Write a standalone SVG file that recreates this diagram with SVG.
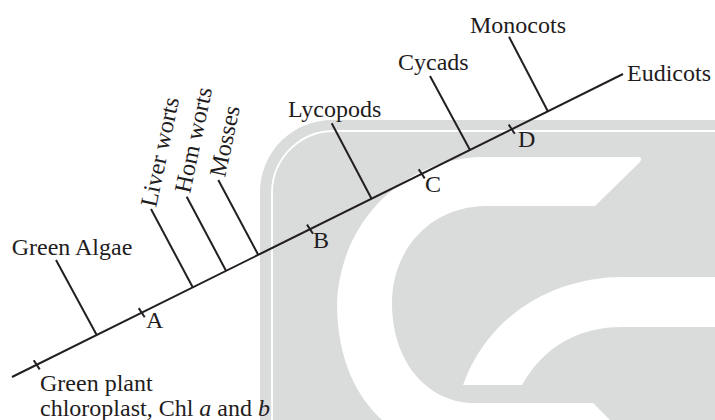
<svg xmlns="http://www.w3.org/2000/svg" width="715" height="420" viewBox="0 0 715 420">
  <style>
    .lbl { font-family: "Liberation Serif", "Times New Roman", serif; font-size: 24px; fill: #1f1c1d; }
    .ln { stroke: #231f20; stroke-width: 2; fill: none; stroke-linecap: butt; }
    .tick { stroke: #231f20; stroke-width: 2; }
    .bg { fill: #dadbdb; }
    .cut { fill: #ffffff; }
  </style>

  <!-- light backdrop emblem -->
  <g id="backdrop">
    <path class="bg" d="M260,420 L260,192 A72,72 0 0 1 332,120 L715,120 L715,420 Z"/>
    <path d="M272,420 L272,193 A62,62 0 0 1 334,131 L715,131" fill="none" stroke="#ffffff" stroke-width="1.8"/>
    <path class="cut" d="M638,157 L480,157 C400,160 340,225 337,303 C337,370 365,410 395,430 L625,430 L610,420 L593,403 L470,403 C425,400 392,360 392,303 C392,250 430,206 487,206 L595,206 L640,162 Q643,157 638,157 Z"/>
    <path class="cut" d="M715,277 L622,277 C560,277 490,310 463,385 L522,385 C545,345 580,327 622,327 L715,327 Z"/>
  </g>

  <!-- trunk, branches and ticks -->
  <g id="connectors">
    <line class="ln" x1="12" y1="377" x2="623" y2="74"/>
    <line class="ln" x1="56" y1="260" x2="96.7" y2="335"/>
    <line class="ln" x1="151" y1="209" x2="192.7" y2="287.3"/>
    <line class="ln" x1="186.7" y1="196.7" x2="226" y2="270.7"/>
    <line class="ln" x1="218.3" y1="180" x2="258.3" y2="255"/>
    <line class="ln" x1="331.7" y1="123.3" x2="371.7" y2="199"/>
    <line class="ln" x1="430" y1="76" x2="470" y2="150"/>
    <line class="ln" x1="509" y1="36.7" x2="547.7" y2="111"/>
  </g>

  <g id="root">
    <line class="tick" x1="33.7" y1="360.2" x2="39.7" y2="369.4"/>
    <text class="lbl" x="40" y="390.5">Green plant</text>
    <text class="lbl" x="40" y="416">chloroplast, Chl <tspan font-style="italic">a</tspan> and <tspan font-style="italic">b</tspan></text>
  </g>

  <g id="node-a">
    <line class="tick" x1="138.7" y1="308.1" x2="144.7" y2="317.3"/>
    <text class="lbl" x="146" y="328.3">A</text>
  </g>
  <g id="node-b">
    <line class="tick" x1="307" y1="224.6" x2="313" y2="233.8"/>
    <text class="lbl" x="313" y="248.3">B</text>
  </g>
  <g id="node-c">
    <line class="tick" x1="418.7" y1="169.2" x2="424.7" y2="178.4"/>
    <text class="lbl" x="425" y="191.7">C</text>
  </g>
  <g id="node-d">
    <line class="tick" x1="508.7" y1="124.6" x2="514.7" y2="133.8"/>
    <text class="lbl" x="518" y="146.7">D</text>
  </g>

  <g id="green-algae"><text class="lbl" x="11.7" y="255">Green Algae</text></g>
  <g id="liver-worts"><text class="lbl" transform="translate(156,208) rotate(-78)">Liver worts</text></g>
  <g id="horn-worts"><text class="lbl" transform="translate(190,194) rotate(-78)">Hom worts</text></g>
  <g id="mosses"><text class="lbl" transform="translate(225,178) rotate(-78)">Mosses</text></g>
  <g id="lycopods"><text class="lbl" x="288" y="116.7">Lycopods</text></g>
  <g id="cycads"><text class="lbl" x="398" y="70">Cycads</text></g>
  <g id="monocots"><text class="lbl" x="470" y="33.3">Monocots</text></g>
  <g id="eudicots"><text class="lbl" x="627" y="80.5">Eudicots</text></g>
</svg>
